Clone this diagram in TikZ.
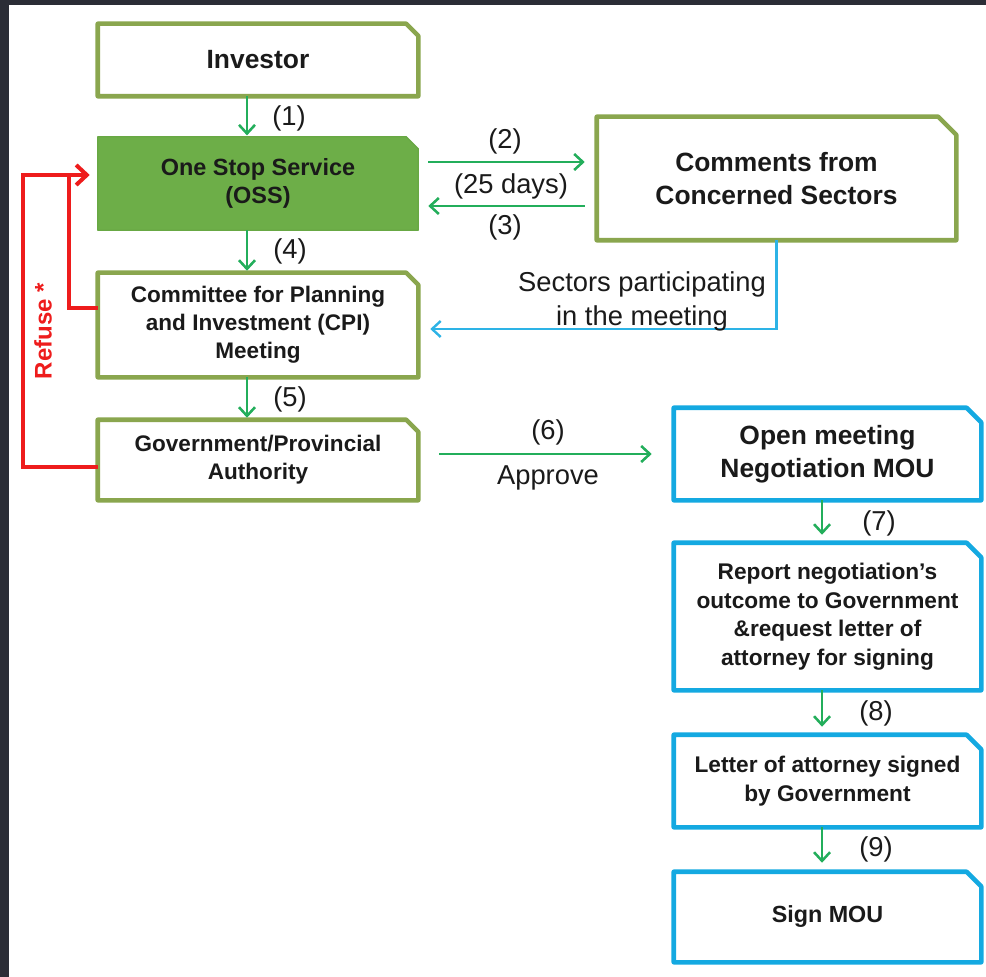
\documentclass[tikz,border=0pt]{standalone}
\usepackage{fontspec}
\setmainfont{Liberation Sans}
\usetikzlibrary{arrows.meta,backgrounds}
\definecolor{olive}{HTML}{8AA64E}
\definecolor{ossfill}{HTML}{6DAE48}
\definecolor{ossline}{HTML}{68A844}
\definecolor{arrgreen}{HTML}{23AE5B}
\definecolor{boxblue}{HTML}{14A9E1}
\definecolor{lineblue}{HTML}{2DB3E6}
\definecolor{refred}{HTML}{EE1C1C}
\definecolor{darkbg}{HTML}{2B2D36}
\definecolor{txt}{HTML}{1A1A1A}
\newcommand\snipbox[3]{%
  \path[#3] (#1.south west) -- (#1.north west) -- ([xshift=-#2]#1.north east)
    -- ([yshift=-#2]#1.north east) -- (#1.south east) -- cycle;}
\begin{document}
\begin{tikzpicture}[x=0.75pt,y=-0.75pt,
  every node/.style={text=txt, inner sep=0pt},
  leftbox/.style={minimum width=240pt, align=center, font=\bfseries\fontsize{16.9}{21}\selectfont},
  rightbox/.style={minimum width=230.25pt, align=center, font=\bfseries\fontsize{17}{21.4}\selectfont},
  bigtext/.style={font=\bfseries\fontsize{19.8}{25}\selectfont},
  lbl/.style={font=\fontsize{20.5}{25.5}\selectfont, align=center},
  greenline/.style={draw=olive, line width=3.4pt, line join=round},
  blueline/.style={draw=boxblue, line width=3.4pt, line join=round},
  flow/.style={draw=arrgreen, line width=1.9pt, -{Straight Barb[length=6.5pt,width=12pt]}},
  sectline/.style={draw=lineblue, line width=1.8pt, -{Straight Barb[length=6.5pt,width=12pt]}},
  refline/.style={draw=refred, line width=3pt},
]
\useasboundingbox (0,0) rectangle (986,977);

% boxes
\node[leftbox, minimum height=54pt, bigtext] (inv) at (258,60) {Investor};
\node[leftbox, minimum height=69.75pt, font=\bfseries\fontsize{17.6}{21}\selectfont] (oss) at (258,183.5) {One Stop Service\\(OSS)};
\node[leftbox, minimum height=78pt] (cpi) at (258,325) {Committee for Planning\\and Investment (CPI)\\Meeting};
\node[leftbox, minimum height=60pt] (gov) at (258,460) {Government/Provincial\\Authority};
\node[minimum width=269.25pt, minimum height=92.25pt, align=center, bigtext] (com) at (776.5,178.5) {Comments from\\Concerned Sectors};
\node[rightbox, minimum height=69pt, bigtext] (open) at (827.5,454) {Open meeting\\Negotiation MOU};
\node[rightbox, minimum height=110.25pt] (rep) at (827.5,616.5) {Report negotiation’s\\outcome to Government\\\&request letter of\\attorney for signing};
\node[rightbox, minimum height=69pt] (let) at (827.5,781) {Letter of attorney signed\\by Government};
\node[rightbox, minimum height=67.5pt, font=\bfseries\fontsize{17.5}{21}\selectfont] (sign) at (827.5,917) {Sign MOU};

\begin{pgfonlayer}{background}
  \fill[darkbg] (0,0) rectangle (986,977);
  \fill[white] (9,5) rectangle (986,977);
  \snipbox{inv}{9pt}{greenline, fill=white}
  \snipbox{oss}{9pt}{draw=ossline, line width=1pt, line join=round, fill=ossfill}
  \snipbox{cpi}{9pt}{greenline, fill=white}
  \snipbox{gov}{9pt}{greenline, fill=white}
  \snipbox{com}{13.5pt}{greenline, fill=white}
  \snipbox{open}{11pt}{blueline, fill=white}
  \snipbox{rep}{11pt}{blueline, fill=white}
  \snipbox{let}{11pt}{blueline, fill=white}
  \snipbox{sign}{11pt}{blueline, fill=white}
\end{pgfonlayer}

% left column flow
\draw[flow, shorten >=1pt] ([xshift=-8.25pt]inv.south) -- ([xshift=-8.25pt]oss.north);
\draw[flow, shorten >=1.5pt] ([xshift=-8.25pt]oss.south) -- ([xshift=-8.25pt]cpi.north);
\draw[flow, shorten >=1.5pt] ([xshift=-8.25pt]cpi.south) -- ([xshift=-8.25pt]gov.north);
\node[lbl] (l1) at (289,118) {(1)};
\node[lbl] (l4) at (290,251) {(4)};
\node[lbl] (l5) at (290,399) {(5)};

% OSS <-> comments
\draw[flow, shorten <=7.5pt, shorten >=9pt] (oss.east |- 0,162) -- (com.west |- 0,162);
\draw[flow, shorten <=9pt, shorten >=7.5pt] (com.west |- 0,206) -- (oss.east |- 0,206);
\node[lbl] (l2) at (505,141) {(2)};
\node[lbl] (l25) at (511,186) {(25 days)};
\node[lbl] (l3) at (505,227) {(3)};

% sectors participating
\draw[sectline, shorten >=9pt] (com.south) |- (cpi.east |- 0,329);
\node[lbl] (lsec) at (642,301) {Sectors participating\\in the meeting};

% approve
\draw[flow, shorten <=15.75pt, shorten >=16.5pt] (gov.east |- 0,454) -- (open.west |- 0,454);
\node[lbl] (l6) at (548,432) {(6)};
\node[lbl] (lapp) at (548,478) {Approve};

% right column flow
\draw[flow, shorten >=6pt] ([xshift=-4.1pt]open.south) -- ([xshift=-4.1pt]rep.north);
\draw[flow, shorten >=6pt] ([xshift=-4.1pt]rep.south) -- ([xshift=-4.1pt]let.north);
\draw[flow, shorten >=6.75pt] ([xshift=-4.1pt]let.south) -- ([xshift=-4.1pt]sign.north);
\node[lbl] (l7) at (879,523) {(7)};
\node[lbl] (l8) at (876,713) {(8)};
\node[lbl] (l9) at (876,849) {(9)};

% refuse loop
\draw[refline, -{Straight Barb[length=8pt,width=15pt]}, shorten >=6pt]
  (gov.west |- 0,467) -- (23,467) -- (23,175) -- (oss.west |- 0,175);
\draw[refline] (cpi.west |- 0,308) -| (69,175);
\node[rotate=90, text=refred, font=\bfseries\fontsize{18}{20}\selectfont] (ref) at (43,331) {Refuse *};
\end{tikzpicture}
\end{document}
